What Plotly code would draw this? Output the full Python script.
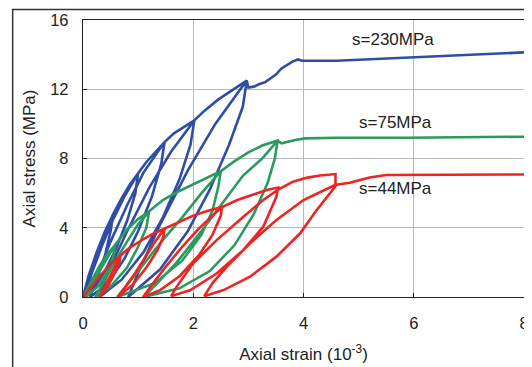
import plotly.graph_objects as go

# ---- data (strain in 1e-3, stress in MPa) ----
blue_strain = [0, 0.1, 0.25, 0.4, 0.55,
               0.5, 0.4, 0.25, 0.1, 0.02,
               0.1, 0.25, 0.4, 0.55,
               0.7, 0.85, 1.0,
               0.95, 0.8, 0.6, 0.4, 0.2, 0.05,
               0.15, 0.35, 0.55, 0.75, 1.0,
               1.15, 1.3, 1.48,
               1.42, 1.25, 1.0, 0.75, 0.45, 0.13,
               0.25, 0.5, 0.8, 1.1, 1.48,
               1.65, 1.85, 2.02,
               1.95, 1.75, 1.45, 1.1, 0.7, 0.3,
               0.45, 0.8, 1.2, 1.6, 2.02,
               2.2, 2.45, 2.7, 2.97,
               2.9, 2.65, 2.3, 1.9, 1.4, 0.82,
               1.0, 1.4, 1.9, 2.4, 2.97,
               3.0, 3.1, 3.2, 3.3, 3.42, 3.5, 3.6, 3.7, 3.8, 3.9, 3.97,
               4.6, 6.0, 8.0]
blue_stress = [0, 1.2, 2.6, 3.8, 4.8,
               3.8, 2.4, 1.0, 0.3, 0,
               1.1, 2.5, 3.7, 4.8,
               5.7, 6.5, 7.15,
               6.0, 4.4, 2.8, 1.5, 0.5, 0,
               1.3, 3.0, 4.5, 5.8, 7.15,
               7.8, 8.35, 8.95,
               7.7, 5.8, 3.8, 2.2, 0.8, 0,
               1.2, 3.2, 5.3, 7.2, 8.95,
               9.45, 9.85, 10.2,
               8.8, 6.8, 4.6, 2.6, 1.0, 0,
               1.4, 3.8, 6.3, 8.4, 10.2,
               10.75, 11.4, 11.95, 12.5,
               11.0, 8.8, 6.2, 3.8, 1.6, 0,
               1.4, 4.2, 7.3, 10.0, 12.5,
               12.1, 12.15, 12.3, 12.4, 12.65, 12.85, 13.2, 13.4, 13.6, 13.72, 13.65,
               13.65, 13.84, 14.13]

green_strain = [0, 0.15, 0.3, 0.45, 0.58,
                0.55, 0.45, 0.3, 0.05,
                0.15, 0.3, 0.45, 0.58,
                0.8, 1.0, 1.2,
                1.15, 1.0, 0.8, 0.5, 0.22,
                0.35, 0.55, 0.8, 1.0, 1.2,
                1.45, 1.7, 2.0, 2.25, 2.5,
                2.45, 2.35, 2.15, 1.8, 1.3, 0.62,
                0.8, 1.1, 1.45, 1.8, 2.15, 2.5,
                2.75, 3.0, 3.25, 3.53,
                3.48, 3.35, 3.1, 2.75, 2.3, 1.75, 1.1,
                1.35, 1.7, 2.1, 2.5, 2.9, 3.25, 3.53,
                3.6, 3.85, 4.03, 4.64, 5.87, 8.0]
green_stress = [0, 0.9, 1.8, 2.5, 3.0,
                2.3, 1.5, 0.7, 0,
                0.6, 1.5, 2.3, 3.0,
                3.9, 4.5, 4.95,
                4.0, 2.9, 1.7, 0.6, 0,
                0.7, 1.9, 3.2, 4.2, 4.95,
                5.6, 6.05, 6.5, 6.9, 7.27,
                6.3, 5.0, 3.6, 2.1, 0.8, 0,
                0.7, 1.9, 3.3, 4.6, 6.0, 7.27,
                7.85, 8.35, 8.75, 9.03,
                8.0, 6.6, 4.8, 3.0, 1.5, 0.5, 0,
                0.8, 2.0, 3.6, 5.3, 7.0, 8.0, 9.03,
                8.88, 9.07, 9.16, 9.2, 9.2, 9.26]

red_strain = [0, 0.15, 0.3, 0.5, 0.68,
              0.66, 0.58, 0.45, 0.3,
              0.4, 0.5, 0.6, 0.68,
              0.85, 1.1, 1.3, 1.48,
              1.46, 1.35, 1.15, 0.9, 0.63,
              0.75, 0.95, 1.15, 1.33, 1.48,
              1.75, 2.0, 2.25, 2.52,
              2.5, 2.35, 2.1, 1.75, 1.4, 1.09,
              1.25, 1.5, 1.8, 2.1, 2.35, 2.52,
              2.8, 3.1, 3.35, 3.54,
              3.51, 3.27, 2.91, 2.43, 1.95, 1.6,
              1.7, 2.0, 2.43, 2.91, 3.27, 3.54,
              3.8, 4.05, 4.3, 4.58,
              4.58, 4.24, 3.94, 3.51, 3.03, 2.55, 2.2,
              2.35, 2.61, 3.03, 3.51, 4.0, 4.57,
              4.84, 5.2, 5.5, 8.0]
red_stress = [0, 0.6, 1.2, 1.9, 2.4,
              2.0, 1.4, 0.6, 0,
              0.6, 1.3, 1.9, 2.4,
              2.85, 3.35, 3.7, 3.95,
              3.5, 2.7, 1.7, 0.7, 0,
              0.5, 1.4, 2.4, 3.3, 3.95,
              4.35, 4.7, 4.97, 5.2,
              4.7, 3.6, 2.4, 1.2, 0.4, 0,
              0.7, 1.75, 2.9, 3.95, 4.7, 5.2,
              5.6, 5.95, 6.2, 6.32,
              5.8, 4.06, 2.72, 1.37, 0.4, 0.05,
              0.6, 1.95, 3.3, 4.64, 5.6, 6.2,
              6.65, 6.88, 7.02, 7.1,
              6.4, 5.03, 3.68, 2.33, 1.17, 0.4, 0.05,
              0.8, 1.75, 3.1, 4.45, 5.6, 6.47,
              6.6, 6.9, 7.05, 7.08]

series_names = ["s=230MPa", "s=75MPa", "s=44MPa"]
series_colors = ["#2f4ea3", "#2b9a5f", "#ee2424"]
label_x = [5.63, 5.66, 5.66]
label_y = [14.9, 10.07, 6.28]

x_ticks = [0, 2, 4, 6, 8]
y_ticks = [0, 4, 8, 12, 16]

font_family = "Liberation Sans, Arial, sans-serif"
text_color = "#222222"

fig = go.Figure()
for name, xs, ys, col in zip(series_names,
                             [blue_strain, green_strain, red_strain],
                             [blue_stress, green_stress, red_stress],
                             series_colors):
    fig.add_trace(go.Scatter(x=xs, y=ys, mode="lines", name=name,
                             line=dict(color=col, width=2.6),
                             showlegend=False))

for name, lx, ly in zip(series_names, label_x, label_y):
    fig.add_annotation(x=lx, y=ly, text=name, showarrow=False,
                       font=dict(size=17, color=text_color, family=font_family))

axis_common = dict(
    showgrid=True, gridcolor="#b8b8b8", gridwidth=1.3,
    showline=True, linecolor="#222222", linewidth=1.3, mirror=True,
    ticks="inside", ticklen=4, tickcolor="#222222",
    tickfont=dict(size=16.5, color=text_color, family=font_family),
    zeroline=False, automargin=False,
)

# page body adds an 8px offset, so the figure is 8px smaller than the window
fig.update_layout(
    width=524, height=359,
    margin=dict(l=74.5, r=7.5, t=12, b=70),
    paper_bgcolor="white", plot_bgcolor="white",
    xaxis=dict(range=[0, 8], tickvals=x_ticks, ticklabelstandoff=11,
               ticklabeloverflow="allow",
               title=dict(text="Axial strain (10<sup>-3</sup>)", standoff=17,
                          font=dict(size=17, color=text_color, family=font_family)),
               **axis_common),
    yaxis=dict(range=[0, 16], tickvals=y_ticks, ticklabelstandoff=10,
               ticklabeloverflow="allow",
               title=dict(text="Axial stress (MPa)", standoff=10,
                          font=dict(size=17, color=text_color, family=font_family)),
               **axis_common),
)

# outer frame of the figure panel (lies entirely outside the plot area)
fig.add_shape(type="rect", xref="paper", yref="paper",
              x0=-0.1595, x1=1.0113, y0=-0.3, y1=1.0375,
              line=dict(color="#333333", width=1.5), layer="above")

fig.write_html("out.html")
